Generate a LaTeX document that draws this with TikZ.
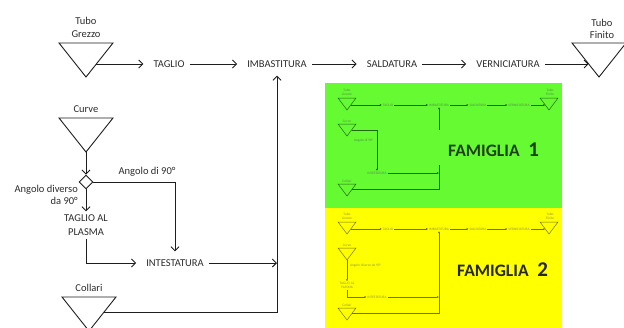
\documentclass[tikz,border=0pt]{standalone}
\usepackage{fontspec}
\setmainfont{Carlito}
\usetikzlibrary{arrows.meta,shapes.geometric,calc}

\definecolor{ink}{RGB}{45,45,45}
\definecolor{linecol}{RGB}{30,30,30}
\definecolor{famgreen}{RGB}{102,250,50}
\definecolor{famyellow}{RGB}{255,255,0}
\definecolor{minigreen}{RGB}{30,105,10}
\definecolor{miniyellow}{RGB}{115,115,0}
\definecolor{famoneink}{RGB}{30,65,20}
\definecolor{famtwoink}{RGB}{40,40,30}

\tikzset{
  flow/.style={line width=0.9pt, draw=linecol},
  arr/.style={flow, -{Straight Barb[length=4pt,width=8pt]}, shorten >=5pt},
  lbl/.style={font=\fontsize{10.5}{12.5}\selectfont, text=ink, inner sep=0pt, align=center},
  stepbox/.style={lbl, inner xsep=5pt, inner ysep=8pt},
  plasmabox/.style={lbl, font=\fontsize{10.5}{14}\selectfont, inner xsep=5pt, inner ysep=3pt},
  miniflow/.style={line width=0.5pt, draw=mini},
  miniarr/.style={miniflow, -{Latex[length=1.9pt,width=2pt]}},
  mini/.style={font=\fontsize{3.5}{4.3}\selectfont, text=mini!75, inner sep=0.8pt, align=center},
  famtext/.style={font=\bfseries\fontsize{17.5}{18}\selectfont, anchor=base west, inner sep=0pt},
  pics/silo/.style={code={
    \draw[flow] (-27,-17) -- (27,-17) -- (0,17) -- cycle;
    \coordinate (-apex) at (0,17);
    \coordinate (-out) at (10.3,4);
    \coordinate (-in) at (-10.3,4);
    \coordinate (-side) at (15.1,-2);
  }},
  pics/minisilo/.style={code={
    \draw[miniflow] (-9,-6) -- (9,-6) -- (0,6) -- cycle;
    \coordinate (-apex) at (0,6);
    \coordinate (-out) at (3.75,1);
    \coordinate (-in) at (-3.75,1);
    \coordinate (-mid) at (4.5,0);
    \coordinate (-side) at (5.25,-1);
  }},
}

\begin{document}
\begin{tikzpicture}[x=1pt,y=-1pt]
\useasboundingbox (0,0) rectangle (624,327);
\clip (0,0) rectangle (624,327);
\fill[white] (0,0) rectangle (624,327);

% ---------------- main process line ----------------
\pic (grezzo) at (86,60) {silo};
\node[lbl] (grezzo-lbl) at (86,27.5) {Tubo\\Grezzo};
\node[stepbox] (taglio) at (169,64) {TAGLIO};
\node[stepbox] (imb) at (277,64) {IMBASTITURA};
\node[stepbox] (sald) at (392,64) {SALDATURA};
\node[stepbox] (vern) at (508,64) {VERNICIATURA};
\pic (finito) at (599,60) {silo};
\node[lbl] (finito-lbl) at (602,29) {Tubo\\Finito};

\draw[arr] (grezzo-out) -- (taglio.west);
\draw[arr] (taglio.east) -- (imb.west);
\draw[arr] (imb.east) -- (sald.west);
\draw[arr] (sald.east) -- (vern.west);
\draw[arr, shorten >=0pt] (vern.east) -- (finito-in);

% ---------------- bends branch ----------------
\pic (curve) at (86,135) {silo};
\node[lbl] (curve-lbl) at (86,109) {Curve};
\node[draw, diamond, flow, minimum size=14pt, inner sep=0pt] (dec) at (86,182) {};
\draw[arr, shorten >=0pt] (curve-apex) -- (dec.north);

\node[stepbox] (intest) at (175,263) {INTESTATURA};
\node[plasmabox] (plasma) at (86,225) {TAGLIO AL\\PLASMA};

\draw[arr, shorten >=0pt] (dec.east) -| (intest.north);
\node[lbl] (ang90) at (147,172) {Angolo di 90°};
\node[lbl, align=right, anchor=east] (angdiv) at (78,195) {Angolo diverso\\da 90°};
\draw[arr, shorten >=0pt] (dec.south) -- (plasma.north);
\draw[arr] (plasma.south) |- (intest.west);
\draw[arr, shorten >=0pt] (intest.east) -- (intest.east -| imb.south);

% ---------------- collars ----------------
\pic (collari) at (89,314) {silo};
\node[lbl] (collari-lbl) at (89,288) {Collari};
\draw[arr, shorten >=0pt] (collari-side) -| (imb.south);

% ---------------- family 1 ----------------
\fill[famgreen] (325,83) rectangle (562,208);
\begin{scope}
\colorlet{mini}{minigreen}
\pic (g-grezzo) at (347,104) {minisilo};
\node[mini] (g-grezzo-lbl) at (347,92) {Tubo\\Grezzo};
\node[mini] (g-taglio) at (388,105) {TAGLIO};
\node[mini] (g-imb) at (439,105) {IMBASTITURA};
\node[mini] (g-sald) at (478,105) {SALDATURA};
\node[mini] (g-vern) at (519,105) {VERNICIATURA};
\pic (g-finito) at (549,104) {minisilo};
\node[mini] (g-finito-lbl) at (550,92) {Tubo\\Finito};
\draw[miniarr] (g-grezzo-out) -- (g-taglio.west);
\draw[miniarr] (g-taglio.east) -- (g-imb.west);
\draw[miniarr] (g-imb.east) -- (g-sald.west);
\draw[miniarr] (g-sald.east) -- (g-vern.west);
\draw[miniarr] (g-vern.east) -- (g-finito-in);

\pic (g-curve) at (347,130) {minisilo};
\node[mini] (g-curve-lbl) at (347,121) {Curve};
\node[mini] (g-intest) at (377,173) {INTESTATURA};
\draw[miniarr] (g-curve-mid) -| (g-intest.north);
\node[mini, anchor=east] (g-ang90) at (374,141) {Angolo di 90°};
\draw[miniarr] (g-intest.east) -- (g-intest.east -| g-imb.south);

\pic (g-collari) at (347,190) {minisilo};
\node[mini] (g-collari-lbl) at (347,181.5) {Collari};
\draw[miniflow] (g-collari-side) -| ($(g-imb.south)+(0,58)$);
\draw[miniarr] ($(g-imb.south)+(0,23)$) -- (g-imb.south);
\end{scope}
\node[famtext, text=famoneink] (fam1) at (448,156) {FAMIGLIA\hspace{0.5em}{\fontsize{21}{21}\selectfont 1}};

% ---------------- family 2 ----------------
\fill[famyellow] (325,208) rectangle (562,330);
\begin{scope}
\colorlet{mini}{miniyellow}
\pic (y-grezzo) at (347,228) {minisilo};
\node[mini] (y-grezzo-lbl) at (347,216) {Tubo\\Grezzo};
\node[mini] (y-taglio) at (388,229) {TAGLIO};
\node[mini] (y-imb) at (439,229) {IMBASTITURA};
\node[mini] (y-sald) at (478,229) {SALDATURA};
\node[mini] (y-vern) at (519,229) {VERNICIATURA};
\pic (y-finito) at (549,228) {minisilo};
\node[mini] (y-finito-lbl) at (550,216) {Tubo\\Finito};
\draw[miniarr] (y-grezzo-out) -- (y-taglio.west);
\draw[miniarr] (y-taglio.east) -- (y-imb.west);
\draw[miniarr] (y-imb.east) -- (y-sald.west);
\draw[miniarr] (y-sald.east) -- (y-vern.west);
\draw[miniarr] (y-vern.east) -- (y-finito-in);

\pic (y-curve) at (347,254) {minisilo};
\node[mini] (y-curve-lbl) at (347,245) {Curve};
\node[mini] (y-plasma) at (347,285.5) {TAGLIO AL\\PLASMA};
\draw[miniarr] (y-curve-apex) -- (y-plasma.north);
\node[mini, anchor=west] (y-angdiv) at (349,266) {Angolo diverso da 90°};
\node[mini] (y-intest) at (377,297) {INTESTATURA};
\draw[miniarr] (y-plasma.south) |- (y-intest.west);
\draw[miniarr] (y-intest.east) -- (y-intest.east -| y-imb.south);

\pic (y-collari) at (347,314) {minisilo};
\node[mini] (y-collari-lbl) at (347,305.5) {Collari};
\draw[miniarr] (y-collari-side) -| (y-imb.south);
\end{scope}
\node[famtext, text=famtwoink] (fam2) at (457,276) {FAMIGLIA\hspace{0.5em}{\fontsize{21}{21}\selectfont 2}};
\end{tikzpicture}
\end{document}
